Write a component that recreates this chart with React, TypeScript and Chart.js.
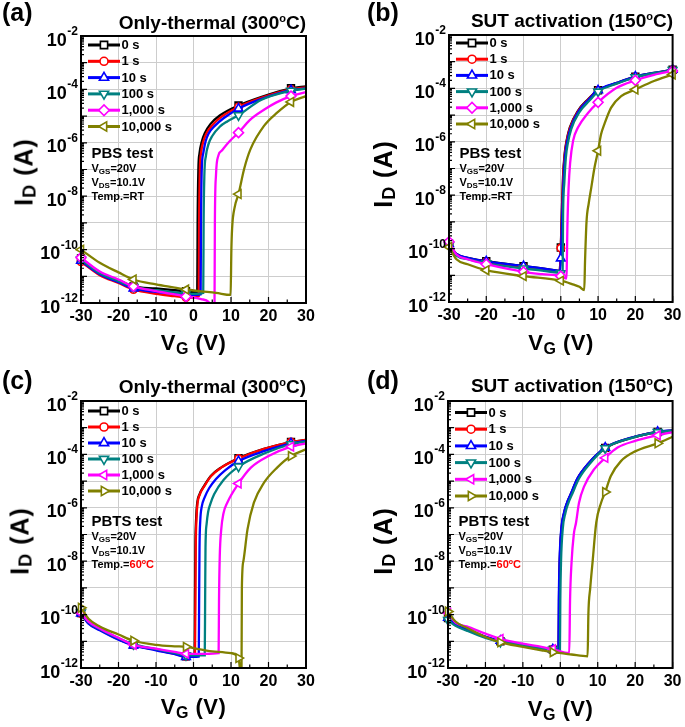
import React, { useEffect, useRef } from 'react';
import { Chart, registerables } from 'chart.js';
import { drawPoint } from 'chart.js/helpers';

Chart.register(...registerables);

type Pt = [number, number];

const FONT = '"Liberation Sans", Arial, Helvetica, sans-serif';
const GRID = '#cdcdcd';

const SERIES = ['0 s', '1 s', '10 s', '100 s', '1,000 s', '10,000 s'];
const COLORS = ['#000000', '#ff0000', '#0000ff', '#008080', '#ff00ff', '#808000'];

const Y_DECADES = [1e-12, 1e-11, 1e-10, 1e-9, 1e-8, 1e-7, 1e-6, 1e-5, 1e-4, 1e-3, 1e-2];
const Y_LABEL_VALUES = [1e-12, 1e-10, 1e-8, 1e-6, 1e-4, 1e-2];
const Y_LABEL_EXPS = ['-12', '-10', '-8', '-6', '-4', '-2'];
const X_MAJOR = [-30, -20, -10, 0, 10, 20, 30];
const X_MINOR = [-25, -15, -5, 5, 15, 25];
const MINOR_MULT = [2, 3, 4, 5, 6, 7, 8, 9];

const MARK_V_ACD = [-30, -16, -2, 12, 26];
const MARK_V_B = [-30, -20, -10, 0, 10, 20, 30];

// ---------- Panel (a): Only-thermal, PBS ----------
const A_0S: Pt[] = [[-30,4.7e-11],[-25,1.4e-11],[-20,7.1e-12],[-16,4.2e-12],[-10,3.5e-12],[-5,3.0e-12],[-2,2.75e-12],[0,2.6e-12],[1.0,2.6e-12],[1.1,1e-9],[1.3,1e-7],[1.6,4e-7],[2.2,1.1e-6],[3,2.3e-6],[4.5,5e-6],[7,1.05e-5],[12,2.5e-5],[18,5.2e-5],[26,1.1e-4],[30,1.3e-4]];
const A_1S: Pt[] = [[-30,3.5e-11],[-25,1.1e-11],[-20,5.6e-12],[-16,3.2e-12],[-10,2.2e-12],[-5,1.8e-12],[-2,1.6e-12],[0,1.6e-12],[1.4,1.8e-12],[1.5,1e-9],[1.7,1e-7],[2.0,4e-7],[2.6,1.1e-6],[3.4,2.2e-6],[5,4.5e-6],[7.5,9.5e-6],[12,2.2e-5],[18,4.8e-5],[26,1.0e-4],[30,1.2e-4]];
const A_10S: Pt[] = [[-30,3.8e-11],[-25,1.2e-11],[-20,6.0e-12],[-16,3.5e-12],[-10,2.6e-12],[-5,2.2e-12],[-2,2.0e-12],[0,2.0e-12],[1.9,2.1e-12],[2.0,1e-9],[2.2,1e-7],[2.6,4e-7],[3.2,1.1e-6],[4,2.2e-6],[5.6,4.2e-6],[8,8.3e-6],[12,1.9e-5],[18,4.3e-5],[26,9.3e-5],[30,1.1e-4]];
const A_100S: Pt[] = [[-30,4.2e-11],[-25,1.3e-11],[-20,6.6e-12],[-16,4.0e-12],[-10,3.0e-12],[-5,2.5e-12],[-2,2.3e-12],[0,2.2e-12],[2.6,2.4e-12],[2.7,1e-9],[2.9,6.3e-8],[3.3,3.2e-7],[4,8.9e-7],[5,1.8e-6],[7,4.0e-6],[9,6.3e-6],[12,1.07e-5],[18,4.0e-5],[26,8.9e-5],[30,1.07e-4]];
const A_1000S: Pt[] = [[-30,5.0e-11],[-25,1.5e-11],[-20,7.6e-12],[-16,4.2e-12],[-10,2.8e-12],[-5,2.1e-12],[-2,1.75e-12],[0,1.6e-12],[2,1.4e-12],[4,1.1e-12],[5,6.3e-13],[5.6,6.3e-13],[5.7,1e-9],[6.0,6.3e-8],[6.6,3.2e-7],[7.5,5e-7],[9.5,1.1e-6],[12,2.4e-6],[15,7.1e-6],[19,1.8e-5],[22,3.2e-5],[26,5.6e-5],[30,7.9e-5]];
const A_10000S: Pt[] = [[-30,1.0e-10],[-25,3.2e-11],[-20,1.4e-11],[-16,7.6e-12],[-10,5.0e-12],[-5,3.8e-12],[-2,3.2e-12],[2,2.75e-12],[6,2.4e-12],[9.9,2.0e-12],[10.1,1e-10],[10.3,6.3e-10],[11,4e-9],[12,1.2e-8],[13.5,1.05e-7],[15.2,5.8e-7],[18.8,4.3e-6],[22.3,1.35e-5],[26,3.4e-5],[30,5.6e-5]];

// ---------- Panel (b): SUT activation, PBS ----------
const B_0S: Pt[] = [[-30,1.55e-10],[-28,6.3e-11],[-25,4.5e-11],[-20,3.4e-11],[-10,2.2e-11],[-5,1.8e-11],[-1,1.5e-11],[-0.3,1.45e-11],[0,1.1e-10],[0.3,3.2e-9],[0.6,5e-8],[1.0,3.2e-7],[1.5,1e-6],[2.4,3.4e-6],[4.6,1.45e-5],[7.3,3.9e-5],[10,8.5e-5],[15,1.6e-4],[20,2.75e-4],[25,3.8e-4],[30,5.0e-4]];
const B_1S: Pt[] = [[-30,1.4e-10],[-28,6.0e-11],[-25,4.3e-11],[-20,3.2e-11],[-10,2.0e-11],[-5,1.7e-11],[-1,1.4e-11],[-0.3,1.4e-11],[0,1.05e-10],[0.35,3.2e-9],[0.65,5e-8],[1.05,3.2e-7],[1.55,1e-6],[2.5,3.4e-6],[4.7,1.45e-5],[7.4,3.9e-5],[10,8.3e-5],[15,1.55e-4],[20,2.7e-4],[25,3.7e-4],[30,4.9e-4]];
const B_10S: Pt[] = [[-30,1.5e-10],[-28,6.3e-11],[-25,4.5e-11],[-20,3.3e-11],[-10,2.2e-11],[-5,1.8e-11],[-1,1.5e-11],[-0.2,1.45e-11],[0,4.3e-11],[0.4,2e-9],[0.75,4e-8],[1.15,3e-7],[1.7,1e-6],[2.6,3.2e-6],[4.8,1.4e-5],[7.5,3.8e-5],[10,8.5e-5],[15,1.6e-4],[20,2.75e-4],[25,3.8e-4],[30,5.0e-4]];
const B_100S: Pt[] = [[-30,1.3e-10],[-28,5.5e-11],[-25,4.0e-11],[-20,2.8e-11],[-10,1.8e-11],[-5,1.5e-11],[-1,1.25e-11],[0,1.2e-11],[0.5,1.5e-11],[0.6,1.5e-9],[0.95,3e-8],[1.35,2.5e-7],[1.9,9e-7],[2.8,3e-6],[5,1.3e-5],[7.7,3.5e-5],[10,7.6e-5],[15,1.5e-4],[20,2.6e-4],[25,3.7e-4],[30,4.9e-4]];
const B_1000S: Pt[] = [[-30,1.8e-10],[-28,6.0e-11],[-25,4.0e-11],[-20,2.6e-11],[-10,1.35e-11],[-5,1.1e-11],[0,9.3e-12],[1.5,7.6e-12],[1.8,1e-9],[2.1,2e-8],[2.5,1.6e-7],[3.3,1.1e-6],[4.6,3.4e-6],[7.3,1.2e-5],[10,3.0e-5],[15,1.05e-4],[20,2.0e-4],[25,3.2e-4],[30,4.5e-4]];
const B_10000S: Pt[] = [[-30,1.15e-10],[-28,4.0e-11],[-25,2.6e-11],[-20,1.55e-11],[-10,9.3e-12],[0,6.3e-12],[3,4.7e-12],[5,3.7e-12],[6.3,2.8e-12],[6.5,3.2e-11],[6.9,1e-9],[7.5,5e-9],[8.2,2e-8],[9,1e-7],[10,4.6e-7],[10.8,1.9e-6],[11.7,4.6e-6],[13.5,1.9e-5],[16.2,5.1e-5],[20,9.1e-5],[25,1.9e-4],[30,3.3e-4]];

// ---------- Panel (c): Only-thermal, PBTS ----------
const C_0S: Pt[] = [[-30,1.15e-10],[-28,5e-11],[-25,2.8e-11],[-20,1.2e-11],[-16,7.4e-12],[-10,4.9e-12],[-5,3.5e-12],[-2,2.75e-12],[0.3,2.7e-12],[0.4,3.2e-10],[0.5,3.2e-8],[0.7,4e-7],[1.0,1.55e-6],[1.6,3.2e-6],[2.8,6.5e-6],[4.6,1.55e-5],[7.3,3.2e-5],[12,7.2e-5],[18.8,1.6e-4],[26,2.9e-4],[30,3.5e-4]];
const C_1S: Pt[] = [[-30,1.1e-10],[-28,4.8e-11],[-25,2.7e-11],[-20,1.2e-11],[-16,7.2e-12],[-10,4.8e-12],[-5,3.4e-12],[-2,2.7e-12],[0.4,2.7e-12],[0.5,3.2e-10],[0.6,3.2e-8],[0.8,4e-7],[1.1,1.55e-6],[1.7,3.2e-6],[2.9,6.5e-6],[4.7,1.55e-5],[7.4,3.2e-5],[12,7.0e-5],[18.8,1.6e-4],[26,2.9e-4],[30,3.5e-4]];
const C_10S: Pt[] = [[-30,1.1e-10],[-28,4.6e-11],[-25,2.6e-11],[-20,1.15e-11],[-16,7.0e-12],[-10,4.6e-12],[-5,3.3e-12],[-2,2.6e-12],[1.4,2.7e-12],[1.5,3.2e-10],[1.6,3.2e-8],[1.8,3.2e-7],[2.2,1.1e-6],[3,2.5e-6],[4.2,5.5e-6],[6,1.2e-5],[8.5,2.6e-5],[12,5.6e-5],[19,1.35e-4],[26,2.6e-4],[30,3.2e-4]];
const C_100S: Pt[] = [[-30,1.2e-10],[-28,5.2e-11],[-25,2.9e-11],[-20,1.3e-11],[-16,7.8e-12],[-10,5.1e-12],[-5,3.7e-12],[-2,3.0e-12],[3.0,3.0e-12],[3.1,3.2e-10],[3.2,3.2e-8],[3.5,2.5e-7],[3.9,7e-7],[4.5,1.4e-6],[5.5,3.2e-6],[8,1.1e-5],[12,3.5e-5],[19,1.1e-4],[26,2.4e-4],[30,3.0e-4]];
const C_1000S: Pt[] = [[-30,1.15e-10],[-28,5.5e-11],[-25,3.0e-11],[-20,1.35e-11],[-16,7.4e-12],[-10,5.3e-12],[-5,4.0e-12],[-2,3.4e-12],[3,3.4e-12],[6.7,3.6e-12],[6.8,3.2e-10],[7.0,1.5e-8],[7.4,1.55e-7],[8,6.3e-7],[9,1.55e-6],[12,8.1e-6],[15.3,3.2e-5],[20,8.7e-5],[26,1.95e-4],[30,2.6e-4]];
const C_10000S: Pt[] = [[-30,1.8e-10],[-28,7e-11],[-25,3.6e-11],[-20,1.8e-11],[-16,1.05e-11],[-10,7.4e-12],[-5,6.5e-12],[-2,6.2e-12],[5,4.2e-12],[10,3.6e-12],[12,2.35e-12],[12.6,6.3e-13],[12.8,6.3e-13],[12.9,1e-9],[13.3,1e-8],[14.4,1.55e-7],[16.1,1.55e-6],[18.8,8.7e-6],[22.3,3.2e-5],[26,8.7e-5],[30,1.55e-4]];

// ---------- Panel (d): SUT activation, PBTS ----------
const D_0S: Pt[] = [[-30,7.4e-11],[-28,4.2e-11],[-25,2.75e-11],[-20,1.45e-11],[-16,1.0e-11],[-10,7.4e-12],[-5,5.6e-12],[-2,4.9e-12],[-0.45,4.6e-12],[-0.35,3.2e-10],[-0.15,1e-8],[0.3,1.6e-7],[1.0,6.3e-7],[1.8,1.5e-6],[2.8,3.2e-6],[4.6,1.25e-5],[7.3,4.2e-5],[12,1.75e-4],[19,4.2e-4],[26,6.9e-4],[30,7.9e-4]];
const D_1S: Pt[] = [[-30,7.2e-11],[-28,4.1e-11],[-25,2.7e-11],[-20,1.45e-11],[-16,1.0e-11],[-10,7.3e-12],[-5,5.5e-12],[-2,4.9e-12],[-0.4,4.6e-12],[-0.3,3.2e-10],[-0.1,1e-8],[0.35,1.6e-7],[1.05,6.3e-7],[1.85,1.5e-6],[2.85,3.2e-6],[4.65,1.25e-5],[7.35,4.2e-5],[12,1.72e-4],[19,4.15e-4],[26,6.8e-4],[30,7.8e-4]];
const D_10S: Pt[] = [[-30,7.6e-11],[-28,4.3e-11],[-25,2.8e-11],[-20,1.5e-11],[-16,1.05e-11],[-10,7.6e-12],[-5,5.7e-12],[-2,5.0e-12],[-0.5,4.7e-12],[-0.4,3.2e-10],[-0.2,1e-8],[0.25,1.6e-7],[0.95,6.3e-7],[1.75,1.5e-6],[2.75,3.2e-6],[4.55,1.25e-5],[7.25,4.2e-5],[12,1.78e-4],[19,4.25e-4],[26,7.0e-4],[30,8.0e-4]];
const D_100S: Pt[] = [[-30,6.3e-11],[-28,3.8e-11],[-25,2.5e-11],[-20,1.35e-11],[-16,9.5e-12],[-10,7.1e-12],[-5,5.4e-12],[-2,4.8e-12],[-0.1,4.5e-12],[0.0,3.2e-10],[0.2,1e-8],[0.65,1.6e-7],[1.35,6.3e-7],[2.15,1.5e-6],[3.15,3.2e-6],[5,1.25e-5],[7.7,4.2e-5],[12,1.7e-4],[19,4.1e-4],[26,6.8e-4],[30,7.8e-4]];
const D_1000S: Pt[] = [[-30,1.15e-10],[-28,5e-11],[-25,3.6e-11],[-20,1.95e-11],[-16,1.23e-11],[-10,8.1e-12],[-5,6.2e-12],[-2,5.1e-12],[2.4,3.6e-12],[2.6,3.2e-10],[3.0,8.7e-9],[3.6,1e-7],[4.2,2.75e-7],[5,1.55e-6],[6.4,6.5e-6],[9,2.75e-5],[12,7.4e-5],[15.3,1.8e-4],[20,3.2e-4],[26,5.2e-4],[30,6.9e-4]];
const D_10000S: Pt[] = [[-30,1.3e-10],[-28,5.5e-11],[-25,3.2e-11],[-20,1.45e-11],[-16,9.1e-12],[-10,6.2e-12],[-5,4.6e-12],[-2,3.9e-12],[3,3.2e-12],[7.3,2.75e-12],[7.5,1e-10],[8.0,1e-9],[8.6,8.7e-9],[9.6,2.75e-7],[10.9,1.55e-6],[12,3.9e-6],[13.5,1.55e-5],[16.2,5.6e-5],[20,1.3e-4],[26,2.6e-4],[30,4.6e-4]];

type MStyle = { style: string; rot: number; r: number };
const STYLES_AB: MStyle[] = [
  { style: 'rect', rot: 0, r: 4.8 },
  { style: 'circle', rot: 0, r: 3.7 },
  { style: 'triangle', rot: 0, r: 5 },
  { style: 'triangle', rot: 180, r: 5 },
  { style: 'rectRot', rot: 0, r: 5 },
  { style: 'triangle', rot: 270, r: 5 },
];
const STYLES_CD: MStyle[] = [
  { style: 'rect', rot: 0, r: 4.8 },
  { style: 'circle', rot: 0, r: 3.7 },
  { style: 'triangle', rot: 0, r: 5 },
  { style: 'triangle', rot: 180, r: 5 },
  { style: 'triangle', rot: 270, r: 5 },
  { style: 'triangle', rot: 90, r: 5 },
];

interface PanelSpec {
  id: string;
  letter: string;
  titleMain: string;
  titleTemp: string;
  test: string;
  hot: boolean;
  box: { left: number; top: number; width: number; height: number };
  plot: { l: number; t: number; r: number; b: number };
  series: Pt[][];
  styles: MStyle[];
  markers: number[];
  letterX: number;
  letterY: number;
  titleY: number;
  yTitle: { x: number; y: number };
  xTitleY: number;
  legend: { dy0: number; dy: number };
  annotY: number;
}

const PANELS: PanelSpec[] = [
  {
    id: 'a', letter: '(a)', titleMain: 'Only-thermal', titleTemp: '300', test: 'PBS test', hot: false,
    box: { left: 0, top: 0, width: 342, height: 364 }, plot: { l: 81, t: 36, r: 306, b: 303 },
    series: [A_0S, A_1S, A_10S, A_100S, A_1000S, A_10000S], styles: STYLES_AB, markers: MARK_V_ACD,
    letterX: 2, letterY: 21, titleY: 29, yTitle: { x: 24, y: 172 }, xTitleY: 351,
    legend: { dy0: 9, dy: 16.3 }, annotY: 122,
  },
  {
    id: 'b', letter: '(b)', titleMain: 'SUT activation', titleTemp: '150', test: 'PBS test', hot: false,
    box: { left: 342, top: 0, width: 343, height: 364 }, plot: { l: 449, t: 35, r: 673, b: 302 },
    series: [B_0S, B_1S, B_10S, B_100S, B_1000S, B_10000S], styles: STYLES_AB, markers: MARK_V_B,
    letterX: 367, letterY: 21.5, titleY: 27.5, yTitle: { x: 383, y: 174 }, xTitleY: 351,
    legend: { dy0: 8, dy: 16.2 }, annotY: 123,
  },
  {
    id: 'c', letter: '(c)', titleMain: 'Only-thermal', titleTemp: '300', test: 'PBTS test', hot: true,
    box: { left: 0, top: 364, width: 342, height: 363 }, plot: { l: 81, t: 401, r: 306, b: 668 },
    series: [C_0S, C_1S, C_10S, C_100S, C_1000S, C_10000S], styles: STYLES_CD, markers: MARK_V_ACD,
    letterX: 2, letterY: 389, titleY: 393, yTitle: { x: 20, y: 541 }, xTitleY: 715,
    legend: { dy0: 10, dy: 16 }, annotY: 125,
  },
  {
    id: 'd', letter: '(d)', titleMain: 'SUT activation', titleTemp: '150', test: 'PBTS test', hot: true,
    box: { left: 342, top: 364, width: 343, height: 363 }, plot: { l: 448, t: 401, r: 673, b: 668 },
    series: [D_0S, D_1S, D_10S, D_100S, D_1000S, D_10000S], styles: STYLES_CD, markers: MARK_V_ACD,
    letterX: 367, letterY: 389, titleY: 392, yTitle: { x: 383, y: 541 }, xTitleY: 717,
    legend: { dy0: 11.5, dy: 16.7 }, annotY: 125,
  },
];

const XH = 30;

function PanelChart({ spec }: { spec: PanelSpec }) {
  const ref = useRef<HTMLCanvasElement>(null);
  useEffect(() => {
    const canvas = ref.current;
    if (!canvas) return;
    const { box, plot, styles, markers } = spec;

    const framePlugin = {
      id: 'frame' + spec.id,
      afterDatasetsDraw(chart: any) {
        const ctx: CanvasRenderingContext2D = chart.ctx;
        const { left, right, top, bottom } = chart.chartArea;
        const xs = chart.scales.x;
        const ys = chart.scales.y;
        ctx.save();
        // inward ticks
        ctx.strokeStyle = '#000';
        ctx.lineWidth = 1.2;
        ctx.beginPath();
        Y_DECADES.forEach((d, i) => {
          const py = ys.getPixelForValue(d);
          ctx.moveTo(left, py);
          ctx.lineTo(left + 6, py);
          if (i < Y_DECADES.length - 1) {
            MINOR_MULT.forEach((m) => {
              const pm = ys.getPixelForValue(d * m);
              ctx.moveTo(left, pm);
              ctx.lineTo(left + 3, pm);
            });
          }
        });
        X_MAJOR.forEach((v) => {
          const px = xs.getPixelForValue(v);
          ctx.moveTo(px, bottom);
          ctx.lineTo(px, bottom - 6);
        });
        X_MINOR.forEach((v) => {
          const px = xs.getPixelForValue(v);
          ctx.moveTo(px, bottom);
          ctx.lineTo(px, bottom - 3.5);
        });
        ctx.stroke();
        // frame
        ctx.lineWidth = 2;
        ctx.strokeRect(left, top, right - left, bottom - top);

        // y tick labels 10^n
        ctx.fillStyle = '#000';
        ctx.textBaseline = 'alphabetic';
        Y_LABEL_VALUES.forEach((v, k) => {
          const py = ys.getPixelForValue(v);
          const exp = Y_LABEL_EXPS[k];
          ctx.font = `bold 12px ${FONT}`;
          const sw = ctx.measureText(exp).width;
          const xr = left - 3;
          ctx.textAlign = 'left';
          ctx.fillText(exp, xr - sw, py - 1);
          ctx.font = `bold 18px ${FONT}`;
          ctx.textAlign = 'right';
          ctx.fillText('10', xr - sw - 0.5, py + 9.5);
        });

        // legend
        const lx0 = left + 7;
        const lx1 = left + 39;
        SERIES.forEach((label, i) => {
          const ry = top + spec.legend.dy0 + i * spec.legend.dy;
          ctx.strokeStyle = COLORS[i];
          ctx.lineWidth = 3;
          ctx.beginPath();
          ctx.moveTo(lx0, ry);
          ctx.lineTo(lx1, ry);
          ctx.stroke();
          ctx.fillStyle = '#ffffff';
          ctx.lineWidth = 1.6;
          drawPoint(ctx, {
            pointStyle: styles[i].style as any,
            rotation: styles[i].rot,
            radius: styles[i].r + 0.3,
            borderWidth: 1.6,
          } as any, (lx0 + lx1) / 2, ry);
          ctx.fillStyle = '#000';
          ctx.font = `bold 13px ${FONT}`;
          ctx.textAlign = 'left';
          ctx.textBaseline = 'middle';
          ctx.fillText(label, lx1 + 1.5, ry + 0.5);
        });
        ctx.restore();
      },
    };

    const datasets = spec.series.map((pts, i) => ({
      label: SERIES[i],
      data: pts.map(([x, y]) => ({ x, y })),
      borderColor: COLORS[i],
      backgroundColor: '#ffffff',
      borderWidth: 2.3,
      pointStyle: styles[i].style,
      pointRotation: styles[i].rot,
      pointRadius: pts.map(([x]) => (markers.includes(x) ? styles[i].r : 0)),
      pointBorderColor: COLORS[i],
      pointBackgroundColor: '#ffffff',
      pointBorderWidth: 1.6,
      cubicInterpolationMode: 'monotone',
      order: 10 - i,
      clip: { left: 6, right: 6, top: 0, bottom: 0 },
    }));

    const chart = new Chart(canvas, {
      type: 'line',
      data: { datasets } as any,
      options: {
        responsive: false,
        animation: false,
        devicePixelRatio: 1,
        events: [],
        layout: {
          padding: {
            left: 0,
            top: plot.t - box.top,
            right: box.left + box.width - plot.r,
            bottom: box.top + box.height - plot.b - XH,
          },
        },
        plugins: {
          legend: { display: false },
          tooltip: { enabled: false },
          title: { display: false },
        },
        scales: {
          x: {
            type: 'linear',
            min: -30,
            max: 30,
            afterBuildTicks: (s: any) => {
              s.ticks = X_MAJOR.map((v) => ({ value: v }));
            },
            afterFit: (s: any) => {
              s.height = XH;
            },
            ticks: {
              color: '#000',
              font: { family: FONT, size: 16, weight: 'bold' },
              padding: 3.5,
              maxRotation: 0,
              autoSkip: false,
            },
            grid: { color: GRID, lineWidth: 1, drawTicks: false },
            border: { display: false },
          },
          y: {
            type: 'logarithmic',
            min: 1e-12,
            max: 1e-2,
            afterBuildTicks: (s: any) => {
              s.ticks = Y_DECADES.map((v) => ({ value: v }));
            },
            afterFit: (s: any) => {
              s.width = plot.l - box.left;
            },
            ticks: { display: false },
            grid: { color: GRID, lineWidth: 1, drawTicks: false },
            border: { display: false },
          },
        },
      } as any,
      plugins: [framePlugin],
    });
    return () => chart.destroy();
  }, [spec]);

  const { box } = spec;
  return (
    <canvas
      ref={ref}
      width={box.width}
      height={box.height}
      style={{ position: 'absolute', left: box.left, top: box.top, width: box.width, height: box.height, display: 'block' }}
    />
  );
}

function Txt({ x, y, fs, align = 'left', color = '#000', spacing = 0, children }: any) {
  const W = 320;
  const left = align === 'left' ? x : align === 'right' ? x - W : x - W / 2;
  return (
    <div
      style={{
        position: 'absolute',
        left,
        top: y - 0.8465 * fs,
        width: W,
        textAlign: align,
        fontFamily: FONT,
        fontWeight: 700,
        fontSize: fs,
        lineHeight: `${fs}px`,
        color,
        whiteSpace: 'nowrap',
        letterSpacing: spacing,
      }}
    >
      {children}
    </div>
  );
}

const Sup = ({ size, rise, children }: any) => (
  <span style={{ fontSize: size, position: 'relative', top: -rise, lineHeight: 0 }}>{children}</span>
);
const Sub = ({ size, drop, children }: any) => (
  <span style={{ fontSize: size, position: 'relative', top: drop, lineHeight: 0 }}>{children}</span>
);

function PanelText({ spec }: { spec: PanelSpec }) {
  const { plot } = spec;
  const ax = plot.l + 10.5;
  const ay = plot.t + spec.annotY;
  return (
    <>
      <Txt x={spec.letterX} y={spec.letterY} fs={25}>{spec.letter}</Txt>
      <Txt x={plot.r} y={spec.titleY} fs={19} align="right">
        {spec.titleMain} ({spec.titleTemp}<Sup size={11} rise={7}>o</Sup>C)
      </Txt>
      <div
        style={{
          position: 'absolute',
          left: spec.yTitle.x,
          top: spec.yTitle.y,
          transform: 'translate(-50%, -50%) rotate(-90deg)',
          fontFamily: FONT,
          fontWeight: 700,
          fontSize: 25,
          lineHeight: '25px',
          whiteSpace: 'nowrap',
          color: '#000',
          letterSpacing: 1,
        }}
      >
        I<Sub size={18} drop={3}>D</Sub> (A)
      </div>
      <Txt x={(plot.l + plot.r) / 2} y={spec.xTitleY} fs={22} align="center" spacing={0.5}>
        V<Sub size={16} drop={4}>G</Sub> (V)
      </Txt>
      <Txt x={ax} y={ay} fs={15}>{spec.test}</Txt>
      <Txt x={ax} y={ay + 14} fs={11}>V<Sub size={8} drop={2}>GS</Sub>=20V</Txt>
      <Txt x={ax} y={ay + 28} fs={11}>V<Sub size={8} drop={2}>DS</Sub>=10.1V</Txt>
      <Txt x={ax} y={ay + 42} fs={11}>
        Temp.=
        {spec.hot ? (
          <span style={{ color: '#ff0000' }}>
            60<Sup size={7} rise={4}>o</Sup>C
          </span>
        ) : (
          'RT'
        )}
      </Txt>
    </>
  );
}

export default function App() {
  return (
    <div
      style={{
        position: 'absolute',
        left: 0,
        top: 0,
        width: 685,
        height: 727,
        overflow: 'hidden',
        background: '#ffffff',
      }}
    >
      {PANELS.map((p) => (
        <PanelChart key={p.id} spec={p} />
      ))}
      {PANELS.map((p) => (
        <PanelText key={'t' + p.id} spec={p} />
      ))}
    </div>
  );
}
